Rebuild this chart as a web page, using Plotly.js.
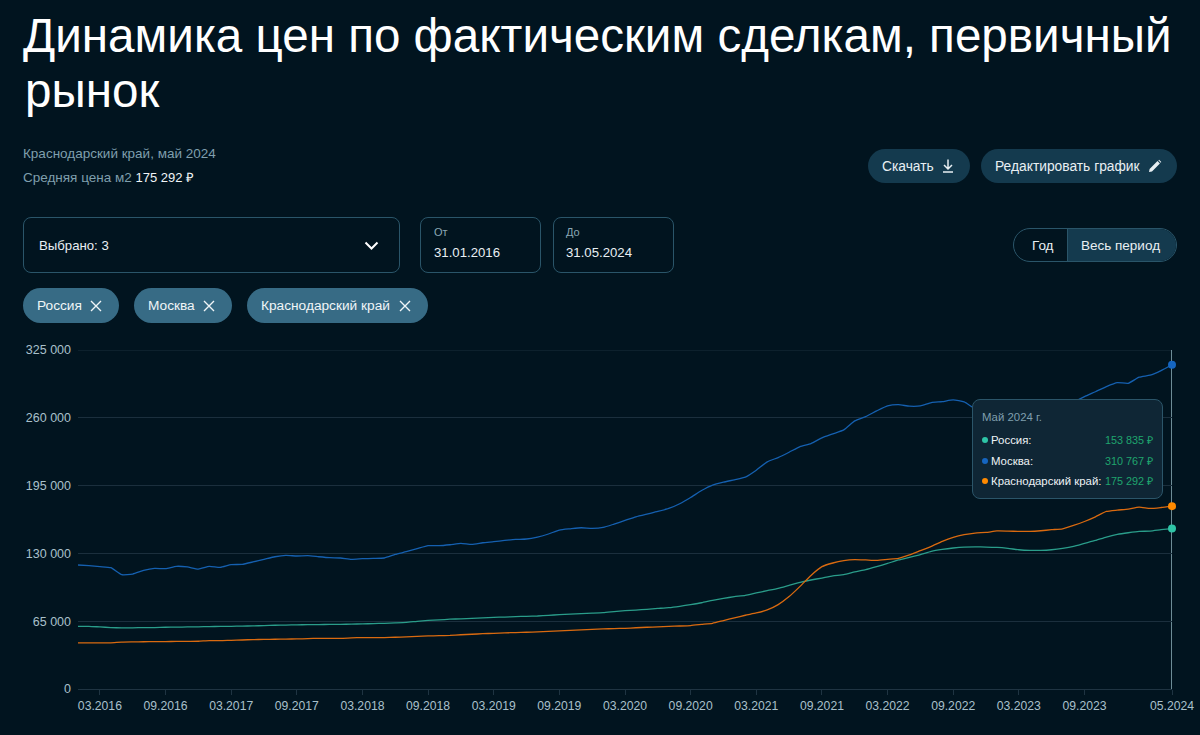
<!DOCTYPE html>
<html lang="ru">
<head>
<meta charset="utf-8">
<title>Динамика цен</title>
<script src="https://cdn.plot.ly/plotly-3.0.1.min.js"></script>
<style>
html,body{margin:0;padding:0;width:1200px;height:735px;overflow:hidden;background:#01141f;font-family:"Liberation Sans",Arial,sans-serif;color:#e8eff3}
#chart{position:absolute;left:0;top:0;width:1200px;height:735px}
.a{position:absolute;white-space:nowrap}
.muted{color:#7f9fad;font-size:13.5px;line-height:16px}
.box{position:absolute;box-sizing:border-box;border:1px solid #2a5569;border-radius:8px}
.btn{position:absolute;box-sizing:border-box;background:#143a4e;border-radius:17px;height:34px;line-height:35px;font-size:13.8px;padding-left:14px;color:#e8eff3;white-space:nowrap}
.chip{position:absolute;box-sizing:border-box;background:#376b85;border-radius:17.5px;height:35px;line-height:36px;font-size:13.7px;padding-left:14px;top:288px;color:#f0f5f7;white-space:nowrap}
.btn svg,.chip svg{position:absolute;top:50%;transform:translateY(-50%)}
#tip{position:absolute;left:972px;top:399px;width:191px;height:100px;box-sizing:border-box;background:#0f2635;border:1px solid #2b5569;border-radius:8px}
.row{position:absolute;left:9px;width:171px;height:16px;line-height:16px;font-size:11.4px;color:#eef3f6;white-space:nowrap}
.row i{position:absolute;left:0;top:5px;width:6px;height:6px;border-radius:50%}
.row b{position:absolute;left:9px;font-weight:normal}
.row em{position:absolute;right:0;font-style:normal;font-size:10.8px;color:#1fa56e}
</style>
</head>
<body>
<div id="chart"></div>

<div class="a muted" style="left:23px;top:146px">Краснодарский край, май 2024</div>
<div class="a muted" style="left:23px;top:170px">Средняя цена м2 <span id="avg" style="color:#f0f5f7;font-size:13px"></span></div>

<div class="btn" style="left:868px;top:149px;width:102px">Скачать
  <svg style="left:73px" width="14" height="15" viewBox="0 0 14 15" fill="none" stroke="#e8eff3" stroke-width="1.5"><path d="M7 1v9M3 6.5 7 10.5 11 6.5M2 13.5h10"/></svg></div>
<div class="btn" style="left:981px;top:149px;width:196px">Редактировать график
  <svg style="left:167px" width="14" height="14" viewBox="0 0 14 14" fill="#e8eff3"><path d="M1 13l.6-3L9.5 2.1l2.4 2.4L4 12.4zM10.3 1.3l.8-.6 2.2 2.2-.6.8z"/></svg></div>

<div class="box" style="left:23px;top:217px;width:377px;height:56px"></div>
<div class="a" style="left:39px;top:237px;font-size:13.2px;line-height:17px">Выбрано: 3</div>
<svg class="a" style="left:364px;top:241px" width="15" height="10" viewBox="0 0 15 10" fill="none" stroke="#fff" stroke-width="2"><path d="M1.5 1.5 7.5 7.5 13.5 1.5"/></svg>

<div class="box" style="left:420px;top:217px;width:121px;height:56px"></div>
<div class="a" style="left:434px;top:225px;font-size:11px;line-height:14px;color:#8aa7b4">От</div>
<div class="a" style="left:434px;top:245px;font-size:13.2px;line-height:16px">31.01.2016</div>
<div class="box" style="left:553px;top:217px;width:121px;height:56px"></div>
<div class="a" style="left:566px;top:225px;font-size:11px;line-height:14px;color:#8aa7b4">До</div>
<div class="a" style="left:566px;top:245px;font-size:13.2px;line-height:16px">31.05.2024</div>

<div class="a" style="left:1013px;top:228px;width:164px;height:34px;box-sizing:border-box;border:1px solid #2a5569;border-radius:17px;overflow:hidden">
  <div style="position:absolute;left:53px;top:0;width:110px;height:32px;background:#143a4e;border-left:1px solid #2a5569"></div>
  <div style="position:absolute;left:18px;top:0;line-height:33px;font-size:13.5px">Год</div>
  <div style="position:absolute;left:67px;top:0;line-height:33px;font-size:13.5px">Весь период</div>
</div>

<div class="chip" style="left:23px;width:96px">Россия
  <svg style="left:67px" width="12" height="12" viewBox="0 0 12 12" stroke="#f0f5f7" stroke-width="1.4"><path d="M1 1l10 10M11 1 1 11"/></svg></div>
<div class="chip" style="left:134px;width:98px">Москва
  <svg style="left:69px" width="12" height="12" viewBox="0 0 12 12" stroke="#f0f5f7" stroke-width="1.4"><path d="M1 1l10 10M11 1 1 11"/></svg></div>
<div class="chip" style="left:247px;width:181px">Краснодарский край
  <svg style="left:152px" width="12" height="12" viewBox="0 0 12 12" stroke="#f0f5f7" stroke-width="1.4"><path d="M1 1l10 10M11 1 1 11"/></svg></div>

<div id="tip">
  <div class="a" style="left:9px;top:10px;font-size:11.4px;line-height:14px;color:#7f9fad">Май 2024 г.</div>
  <div class="row" style="top:32px"><i style="background:#2ec4a6"></i><b>Россия:</b><em id="v0"></em></div>
  <div class="row" style="top:53px"><i style="background:#1565c0"></i><b>Москва:</b><em id="v1"></em></div>
  <div class="row" style="top:73px"><i style="background:#ff8a00"></i><b>Краснодарский край:</b><em id="v2"></em></div>
</div>

<script>
var months = [
"01.2016","02.2016","03.2016","04.2016","05.2016","06.2016","07.2016","08.2016","09.2016","10.2016","11.2016","12.2016",
"01.2017","02.2017","03.2017","04.2017","05.2017","06.2017","07.2017","08.2017","09.2017","10.2017","11.2017","12.2017",
"01.2018","02.2018","03.2018","04.2018","05.2018","06.2018","07.2018","08.2018","09.2018","10.2018","11.2018","12.2018",
"01.2019","02.2019","03.2019","04.2019","05.2019","06.2019","07.2019","08.2019","09.2019","10.2019","11.2019","12.2019",
"01.2020","02.2020","03.2020","04.2020","05.2020","06.2020","07.2020","08.2020","09.2020","10.2020","11.2020","12.2020",
"01.2021","02.2021","03.2021","04.2021","05.2021","06.2021","07.2021","08.2021","09.2021","10.2021","11.2021","12.2021",
"01.2022","02.2022","03.2022","04.2022","05.2022","06.2022","07.2022","08.2022","09.2022","10.2022","11.2022","12.2022",
"01.2023","02.2023","03.2023","04.2023","05.2023","06.2023","07.2023","08.2023","09.2023","10.2023","11.2023","12.2023",
"01.2024","02.2024","03.2024","04.2024","05.2024"];

var russia = [
60100,60100,59500,58900,58600,58600,58900,58900,59200,59300,59500,59600,
59800,60000,60100,60300,60500,60800,61100,61300,61500,61700,61800,61900,
62000,62200,62400,62700,63000,63400,63900,64900,65700,66200,66900,67300,
67800,68200,68700,69000,69400,69700,70000,70600,71300,71800,72300,72700,
73200,74200,75100,75700,76400,77200,78000,79300,80900,82700,85000,86900,
88500,89800,92100,94300,96500,99400,102200,104500,106400,108400,109600,112200,
114400,117300,120400,123700,126200,128800,131900,133800,135200,136100,136200,136100,
135700,134800,133500,132900,132900,133500,134800,136700,139600,142400,145700,148200,
149800,151100,151400,152700,153835];

var moscow = [
118900,118200,117300,116300,109600,110200,113700,115600,115400,117600,117000,115000,
117600,116600,119200,119500,121800,124300,126800,128100,127500,127800,126800,125900,
125600,124300,124900,125200,125600,129000,131600,134500,137400,137400,138300,139600,
138600,140200,141200,142400,143400,143800,145700,148600,152400,153600,154600,154000,
154900,158100,161600,165100,167700,170200,173100,177600,183600,190300,195500,198300,
200600,203100,209800,217800,221900,227000,232400,235300,240800,244600,248400,257000,
261200,266600,271400,272600,271100,271400,274600,275500,277100,275200,268500,266000,
265000,266000,268000,269000,270000,270000,271000,275000,280300,285000,289900,293700,
293100,298900,300800,305200,310767];

var krasnodar = [
44200,44200,44200,44300,45000,45200,45300,45400,45500,45600,45700,45800,
46400,46300,46700,47000,47400,47500,47700,47900,48000,48300,48600,48600,
48600,49000,49300,49300,49300,49600,50000,50400,50900,51100,51400,52000,
52500,53000,53400,53800,54100,54400,54800,55200,55700,56200,56700,57100,
57600,57900,58200,58700,59200,59600,60100,60400,60800,61900,63000,65600,
68200,70700,72900,75800,80900,88600,98400,108900,117300,120800,123000,124000,
123700,123300,124300,125200,128500,132600,136700,141500,145300,147900,149500,150100,
151500,151400,151100,151100,151700,152700,153600,156800,160600,165100,170200,171500,
172500,174400,173100,174000,175292];

var xTicks = ["03.2016","09.2016","03.2017","09.2017","03.2018","09.2018","03.2019","09.2019","03.2020","09.2020","03.2021","09.2021","03.2022","09.2022","03.2023","09.2023","05.2024"];
var yTicks = [0,65000,130000,195000,260000,325000];
var yTickLabels = ["0","65 000","130 000","195 000","260 000","325 000"];

var seriesNames = ["Россия","Москва","Краснодарский край"];
var seriesValues = [russia,moscow,krasnodar];
var lineColors = ["#2a9d8a","#1560b0","#d96a10"];
var dotColors = ["#2ec4a6","#1565c0","#ff8a00"];

function fmt(v){return String(v).replace(/\B(?=(\d{3})+$)/g," ")+" ₽";}
var last = months.length-1;
seriesValues.forEach(function(s,i){document.getElementById("v"+i).textContent=fmt(s[last]);});
document.getElementById("avg").textContent=fmt(krasnodar[last]);

var traces = [];
seriesValues.forEach(function(s,i){
  traces.push({type:"scatter",mode:"lines",name:seriesNames[i],x:months,y:s,cliponaxis:false,
    line:{color:lineColors[i],width:1.3,shape:"spline",smoothing:0.5},showlegend:false,hoverinfo:"skip"});
});
seriesValues.forEach(function(s,i){
  traces.push({type:"scatter",mode:"markers",name:seriesNames[i],x:[months[last]],y:[s[last]],cliponaxis:false,
    marker:{color:dotColors[i],size:8},showlegend:false,hoverinfo:"skip"});
});

var layout = {
  width:1200,height:735,
  paper_bgcolor:"#01141f",plot_bgcolor:"#01141f",
  margin:{l:78,r:28,t:350,b:45.5,pad:0},
  font:{family:"Liberation Sans, Arial, sans-serif",color:"#a9c0cb",size:12.5},
  title:{text:"Динамика цен по фактическим сделкам, первичный",xref:"container",x:23/1200,xanchor:"left",yref:"container",y:1-35/735,yanchor:"middle",
    font:{family:"Liberation Sans, Arial, sans-serif",size:47.6,color:"#ffffff"},pad:{l:0,t:0,b:0,r:0}},
  annotations:[{text:"рынок",xref:"paper",yref:"paper",x:(23-78)/1094,xanchor:"left",y:1+(350-90)/339.5,yanchor:"middle",showarrow:false,
    font:{family:"Liberation Sans, Arial, sans-serif",size:47.6,color:"#ffffff"}}],
  xaxis:{type:"category",categoryorder:"array",categoryarray:months,range:[0,last],tickmode:"array",tickvals:xTicks,ticktext:xTicks,
    showgrid:false,zeroline:false,showline:true,linecolor:"#1f3442",linewidth:1,ticks:"outside",ticklen:5,tickcolor:"#1f3442",tickwidth:1,
    tickangle:0,tickfont:{color:"#a9c0cb",size:12.2},fixedrange:true},
  yaxis:{range:[0,325000],tickmode:"array",tickvals:yTicks,ticktext:yTickLabels,showgrid:true,gridcolor:"#1b2f3d",gridwidth:1,
    zeroline:false,showline:false,ticks:"",ticklabelstandoff:6,tickfont:{color:"#a9c0cb",size:12.5},fixedrange:true},
  shapes:[
    {type:"line",xref:"paper",yref:"y",x0:0,x1:1,y0:yTicks[5],y1:yTicks[5],line:{color:"#1b2f3d",width:1},layer:"below"},
    {type:"line",xref:"x",yref:"y",x0:last,x1:last,y0:0,y1:yTicks[5],line:{color:"#a8ccd8",width:1.3},layer:"below"}
  ],
  showlegend:false,hovermode:false
};
Plotly.newPlot("chart",traces,layout,{displayModeBar:false,staticPlot:true});
</script>
</body>
</html>
